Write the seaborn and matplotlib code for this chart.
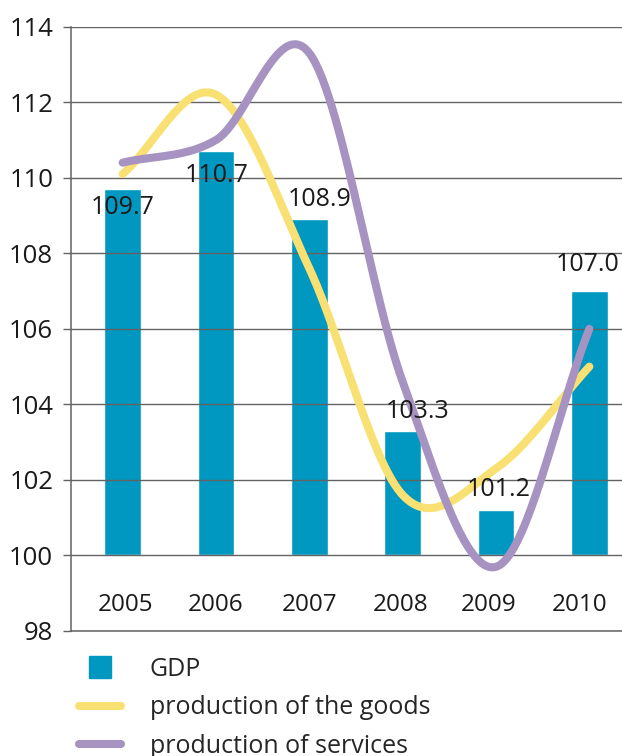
import numpy as np
import matplotlib
matplotlib.use("Agg")
import matplotlib.pyplot as plt
from matplotlib.lines import Line2D
import seaborn as sns

# data
years = ["2005", "2006", "2007", "2008", "2009", "2010"]
gdp = [109.7, 110.7, 108.9, 103.3, 101.2, 107.0]
goods = [110.1, 112.2, 107.6, 101.6, 102.3, 105.0]
services = [110.4, 111.0, 113.3, 104.6, 99.7, 106.0]
gdp_labels = ["109.7", "110.7", "108.9", "103.3", "101.2", "107.0"]
legend_labels = ["GDP", "production of the goods", "production of services"]

BASE = 100  # bars start at 100

# styling
c_bar = "#0098c1"
c_goods = "#f9e072"
c_serv = "#a693c1"
c_grid = "#636363"
# label offsets in pixels (dx, dy of label centre from bar top)
lab_off = [(0, -15.5), (1, -21.5), (10.5, 22.8), (15, 21.7), (3, 23), (-2, 29.2)]
year_dx = [3, 0, 0, -2, -7, -10]

sns.set_style("white")
plt.rcParams["font.family"] = ["Open Sans", "DejaVu Sans"]


def smooth(vals, n=60):
    # cubic hermite through the points (like a spreadsheet "smoothed line")
    y = np.asarray(vals, dtype=float)
    m = np.gradient(y)
    xs, ys = [], []
    for i in range(len(y) - 1):
        t = np.linspace(0, 1, n)
        h00 = 2*t**3 - 3*t**2 + 1
        h10 = t**3 - 2*t**2 + t
        h01 = -2*t**3 + 3*t**2
        h11 = t**3 - t**2
        xs.append(i + t)
        ys.append(h00*y[i] + h10*m[i] + h01*y[i+1] + h11*m[i+1])
    return np.concatenate(xs), np.concatenate(ys)


fig = plt.figure(figsize=(6.22, 7.56), dpi=100)
ax = fig.add_axes([71/622, 125/756, 551/622, 604.3/756])

heights = [v - BASE for v in gdp]
sns.barplot(x=years, y=heights, bottom=BASE, color=c_bar, saturation=1,
            width=0.394, ax=ax, zorder=1)

gx, gy = smooth(goods)
sx, sy = smooth(services)
ax.plot(gx, gy, color=c_goods, lw=5.8, solid_capstyle="round", zorder=3)
ax.plot(sx, sy, color=c_serv, lw=5.8, solid_capstyle="round", zorder=3.1)

for i, (v, lab) in enumerate(zip(gdp, gdp_labels)):
    dx, dy = lab_off[i]
    ax.annotate(lab, (i, v), xytext=(dx, dy - 9), textcoords="offset pixels",
                ha="center", va="baseline", fontsize=18, color="#1a1a1a", zorder=4)

for i, y in enumerate(years):
    ax.annotate(y, (i, 98.54), xytext=(year_dx[i], 0), textcoords="offset pixels",
                ha="center", va="baseline", fontsize=17.5, color="#1a1a1a")

ax.set_xlim(-0.5535, 5.35)
ax.set_ylim(98, 114)
ax.set_yticks(np.arange(98, 115, 2))
ax.set_xticks([])
ax.set_xlabel("")
ax.set_ylabel("")
ax.set_axisbelow(False)
ax.yaxis.grid(True, color=c_grid, lw=1.0)
ax.tick_params(axis="y", length=5.8, width=1.0, color=c_grid, pad=7,
               labelsize=18.5, labelcolor="#1a1a1a", left=True)
for s in ["top", "right"]:
    ax.spines[s].set_visible(False)
for s in ["left", "bottom"]:
    ax.spines[s].set_color(c_grid)
    ax.spines[s].set_linewidth(1.1)

handles = [
    Line2D([], [], marker="s", ls="none", color=c_bar, markersize=16.5),
    Line2D([], [], color=c_goods, lw=5.8, solid_capstyle="round"),
    Line2D([], [], color=c_serv, lw=5.8, solid_capstyle="round"),
]
fig.legend(handles, legend_labels, loc="upper left", bbox_to_anchor=(79/622, 99/756),
           frameon=False, fontsize=18, handlelength=1.68, handletextpad=1.15,
           labelspacing=0.54, borderpad=0, borderaxespad=0)

fig.savefig("out.png", dpi=100)
